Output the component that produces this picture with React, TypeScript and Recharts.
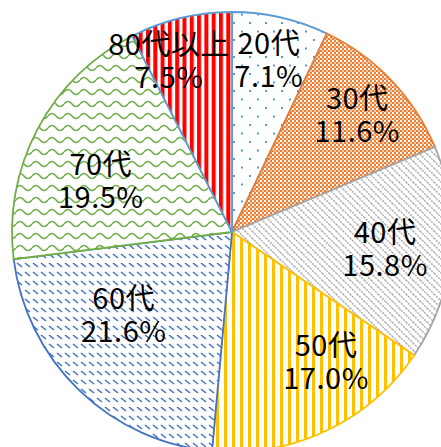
import { PieChart, Pie, Cell } from 'recharts';

const ageGroups = ['20代', '30代', '40代', '50代', '60代', '70代', '80代以上'];
const shares = [7.1, 11.6, 15.8, 17.0, 21.6, 19.5, 7.5];

const data = ageGroups.map((name, i) => ({ name, value: shares[i] }));

// slice looks (fill pattern id + border colour)
const fills = ['dots', 'checks', 'diag', 'vlines', 'dashes', 'waves', 'redstripes'];
const strokes = ['#5B9BD5', '#ED7D31', '#A5A5A5', '#FFC000', '#4472C4', '#70AD47', '#5B9BD5'];

// label placement: share of radius + angle nudge (deg, clockwise)
const labelRadius = [0.8, 0.78, 0.7, 0.73, 0.62, 0.64, 0.83];
const labelNudge = [-0.7, 0.5, 0.5, -10.5, 8.5, -6.7, -6.7];

const RAD = Math.PI / 180;

const renderLabel = (props: any) => {
  const { cx, cy, midAngle, outerRadius, index } = props;
  const theta = (90 - midAngle + labelNudge[index]) * RAD;
  const r = outerRadius * labelRadius[index];
  const x = cx + r * Math.sin(theta);
  const y = cy - r * Math.cos(theta);
  return (
    <text
      x={x}
      y={y}
      textAnchor="middle"
      fill="#000"
      fontSize={29}
      fontFamily="'Noto Sans CJK JP', sans-serif"
      letterSpacing={0.5}
    >
      <tspan x={x} dy={-6}>{ageGroups[index]}</tspan>
      <tspan x={x} dy={33}>{shares[index].toFixed(1)}%</tspan>
    </text>
  );
};

export default function App() {
  return (
    <div style={{ position: 'absolute', left: 0, top: 0, width: 441, height: 447, background: '#fff' }}>
      <PieChart width={441} height={447} margin={{ top: 0, right: 0, bottom: 0, left: 0 }}>
        <defs>
          <pattern id="dots" width="16" height="17" patternUnits="userSpaceOnUse">
            <rect width="16" height="17" fill="#fff" />
            <rect x="9" y="5" width="2" height="2" fill="#5B9BD5" />
            <rect x="1" y="13.5" width="2" height="2" fill="#5B9BD5" />
          </pattern>
          <pattern id="checks" width="4" height="4" patternUnits="userSpaceOnUse">
            <rect width="4" height="4" fill="#ED7D31" />
            <rect x="0" y="0" width="2" height="2" fill="#fff" />
            <rect x="2" y="2" width="2" height="2" fill="#fff" opacity="0.6" />
          </pattern>
          <pattern id="diag" width="7" height="7" patternUnits="userSpaceOnUse">
            <rect width="7" height="7" fill="#fff" />
            <path d="M0 0 L7 7 M-1 6 L1 8 M6 -1 L8 1" stroke="#AFAFAF" strokeWidth="1.5" strokeDasharray="2 1" />
          </pattern>
          <pattern id="vlines" width="8" height="8" patternUnits="userSpaceOnUse">
            <rect width="8" height="8" fill="#fff" />
            <rect x="0" width="3" height="8" fill="#FFC000" />
          </pattern>
          <pattern id="dashes" width="8" height="9" patternUnits="userSpaceOnUse">
            <rect width="8" height="9" fill="#fff" />
            <path d="M1 2 L6 6" stroke="#4472C4" strokeWidth="1.6" />
          </pattern>
          <pattern id="waves" width="16" height="12" patternUnits="userSpaceOnUse">
            <rect width="16" height="12" fill="#fff" />
            <path d="M0 8 Q4 3 8 8 T16 8" fill="none" stroke="#70AD47" strokeWidth="1.6" />
          </pattern>
          <pattern id="redstripes" width="7.3" height="8" patternUnits="userSpaceOnUse">
            <rect width="7.3" height="8" fill="#fff" />
            <rect x="0" width="4" height="8" fill="#FF0000" />
          </pattern>
        </defs>
        <Pie
          data={data}
          dataKey="value"
          nameKey="name"
          cx={232}
          cy={232}
          outerRadius={220}
          startAngle={90}
          endAngle={-270}
          label={renderLabel}
          labelLine={false}
          isAnimationActive={false}
        >
          {data.map((d, i) => (
            <Cell key={d.name} fill={`url(#${fills[i]})`} stroke={strokes[i]} strokeWidth={1.8} />
          ))}
        </Pie>
      </PieChart>
    </div>
  );
}
